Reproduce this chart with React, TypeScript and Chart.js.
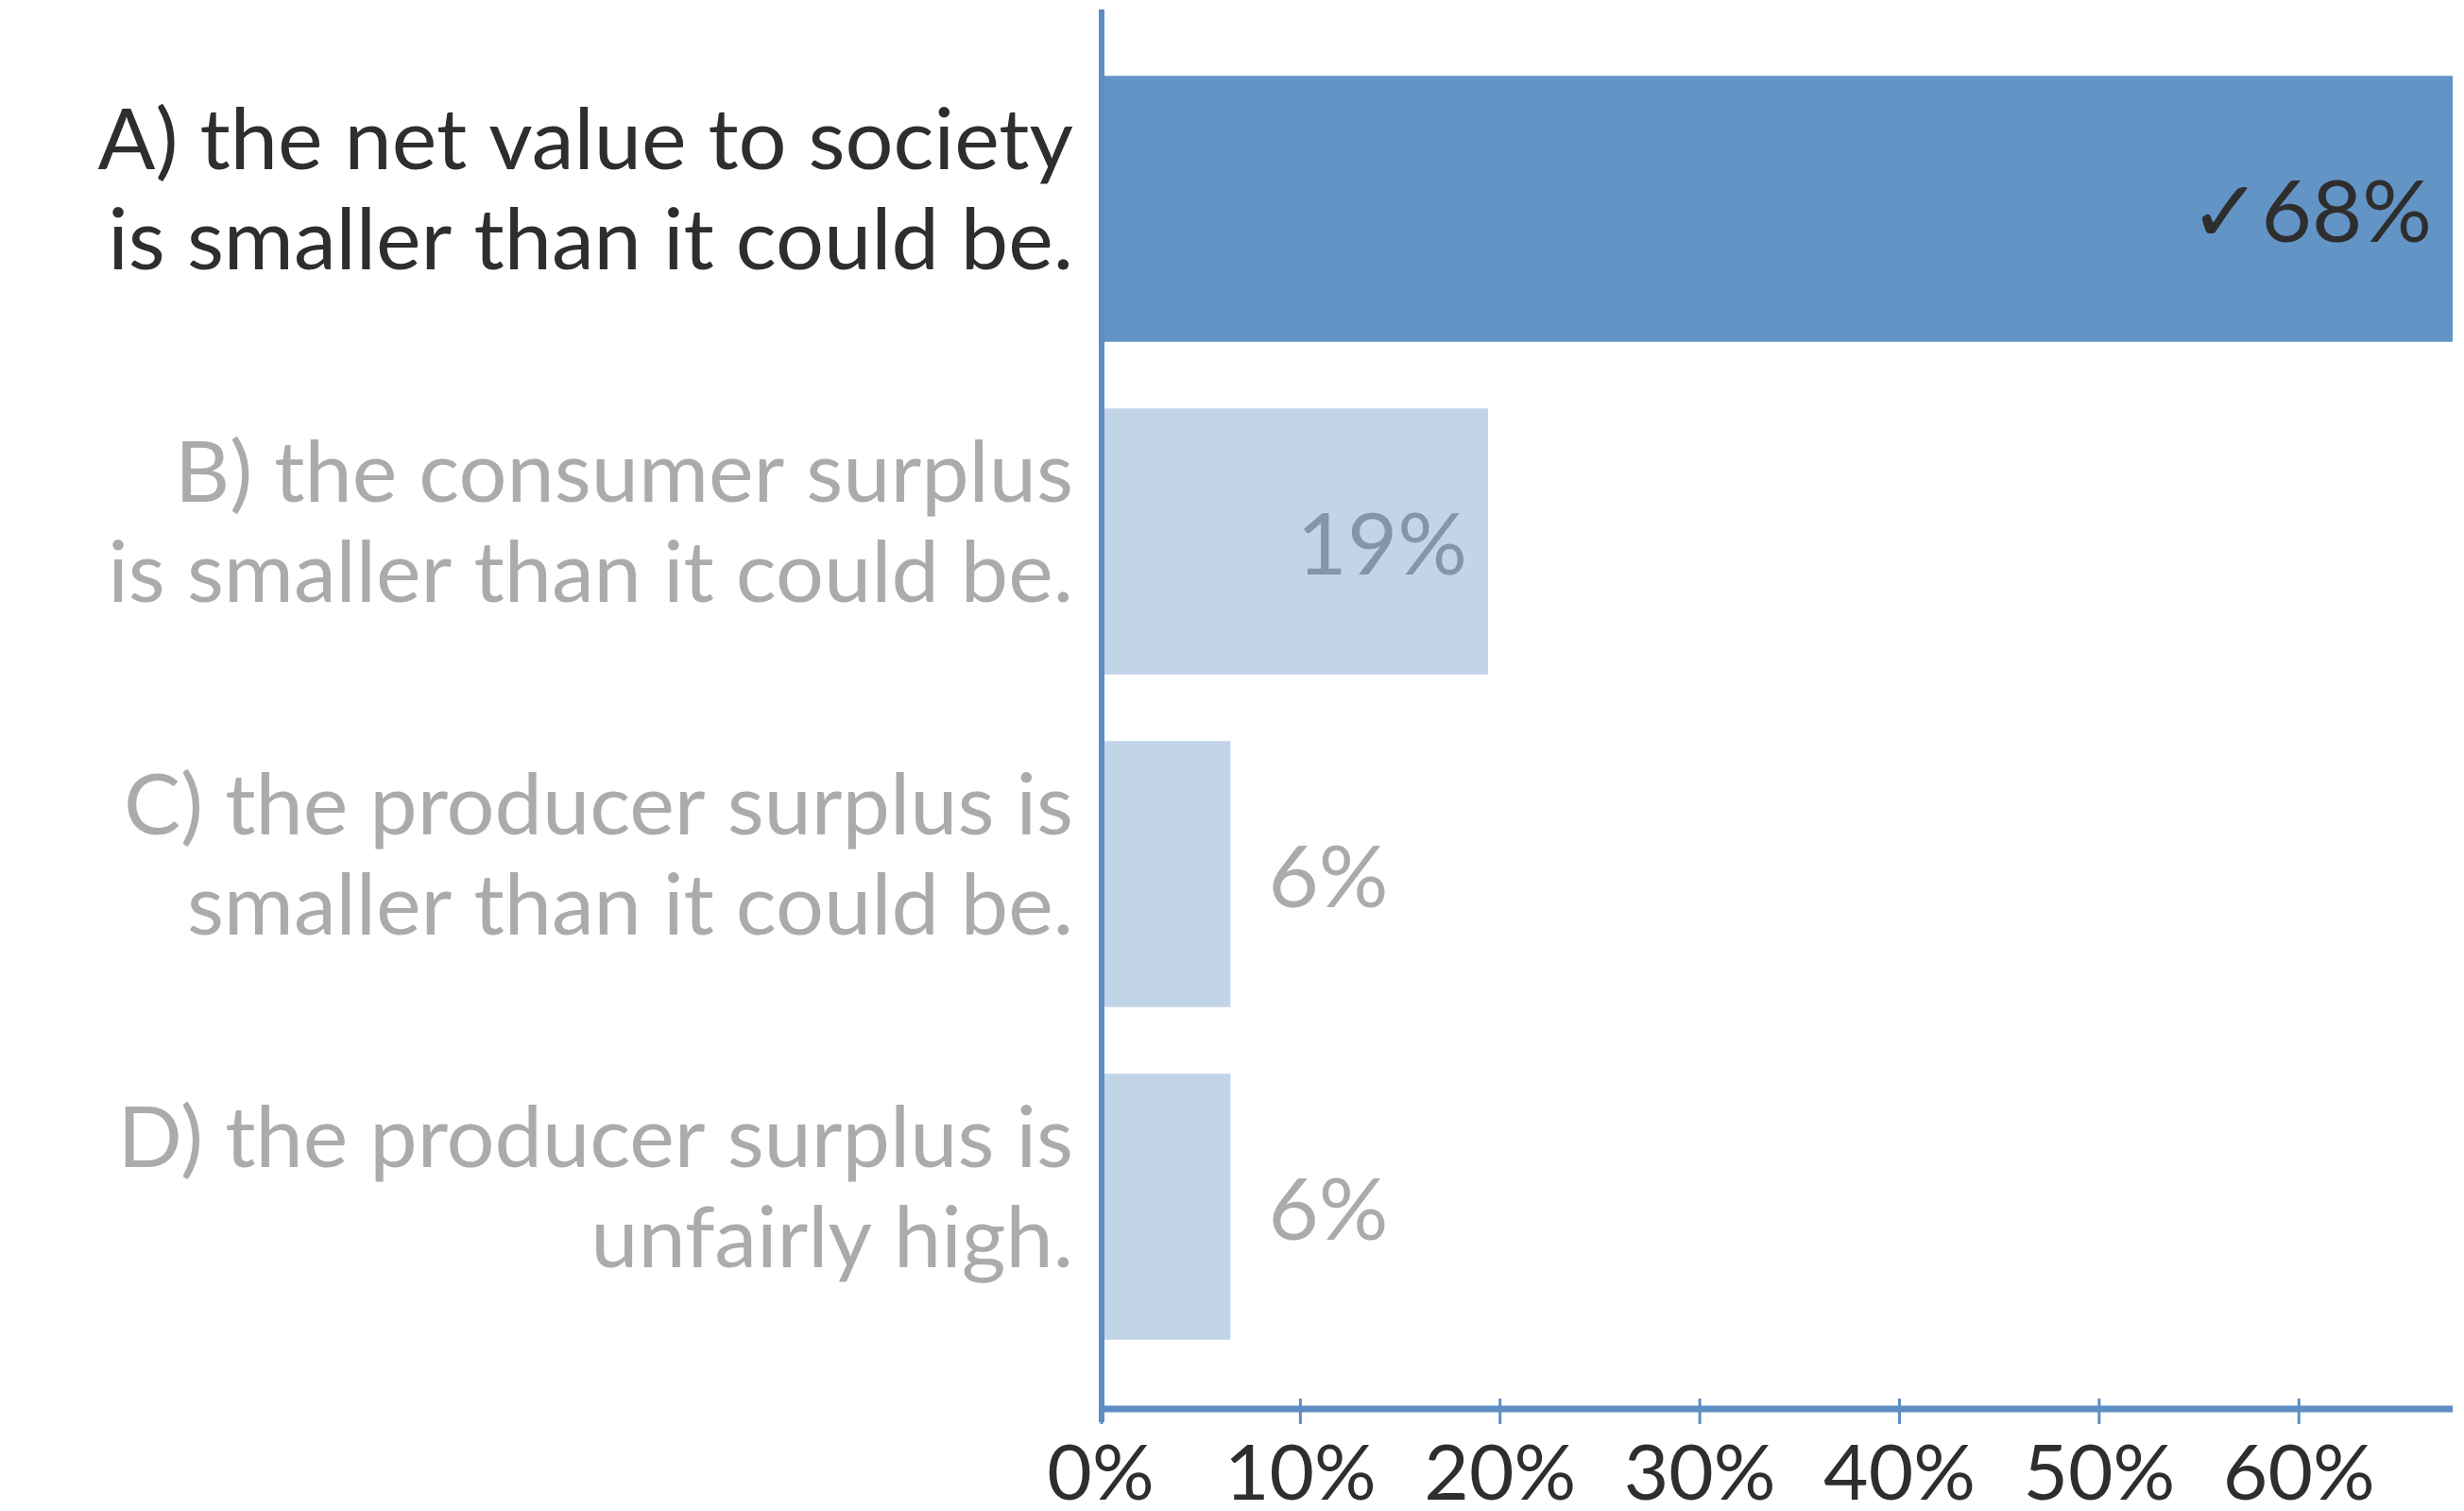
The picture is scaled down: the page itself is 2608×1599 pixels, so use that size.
import React, { useEffect, useRef } from "react";
import { Chart, registerables } from "chart.js";

Chart.register(...registerables);

// ---- data ----
const categories: string[][] = [
  ["A) the net value to society", "is smaller than it could be."],
  ["B) the consumer surplus", "is smaller than it could be."],
  ["C) the producer surplus is", "smaller than it could be."],
  ["D) the producer surplus is", "unfairly high."],
];
const shares: number[] = [67.7, 19.4, 6.5, 6.5];
const valueLabels: string[] = ["\u271368%", "19%", "6%", "6%"];
const xTicks: number[] = [0, 10, 20, 30, 40, 50, 60];
const correctIndex = 0;

// ---- styles ----
const FONT = "Lato, 'Source Sans Pro', 'Noto Sans', sans-serif";
const AXIS_COLOR = "#5E8DC3";
const BAR_CORRECT = "#6394C6";
const BAR_OTHER = "#C2D4E8";
const LABEL_CORRECT = "#2E2E2E";
const LABEL_OTHER = "#ABABAB";

const axesPlugin = {
  id: "customAxes",
  afterDatasetsDraw(chart: any) {
    const { ctx, chartArea } = chart;
    const xs = chart.scales.x;
    const axisY = chartArea.bottom + 38;
    ctx.save();
    ctx.strokeStyle = AXIS_COLOR;
    ctx.lineCap = "butt";
    // vertical axis
    ctx.lineWidth = 6;
    ctx.beginPath();
    ctx.moveTo(chartArea.left + 1, chartArea.top - 35);
    ctx.lineTo(chartArea.left + 1, axisY + 14);
    ctx.stroke();
    // horizontal axis
    ctx.lineWidth = 7;
    ctx.beginPath();
    ctx.moveTo(chartArea.left, axisY);
    ctx.lineTo(chartArea.right, axisY);
    ctx.stroke();
    // tick marks
    ctx.lineWidth = 3;
    xTicks.forEach((v) => {
      const px = xs.getPixelForValue(v) + (v === 0 ? 1 : 0);
      ctx.beginPath();
      ctx.moveTo(px, axisY - 11);
      ctx.lineTo(px, axisY + 16);
      ctx.stroke();
    });

    // value labels
    const meta = chart.getDatasetMeta(0);
    ctx.font = `92px ${FONT}`;
    ctx.textBaseline = "middle";
    meta.data.forEach((bar: any, i: number) => {
      const text = valueLabels[i];
      const tw = ctx.measureText(text).width;
      const barW = bar.x - bar.base;
      if (barW > tw + 44) {
        ctx.textAlign = "right";
        ctx.fillStyle = i === correctIndex ? LABEL_CORRECT : "#8594A6";
        ctx.fillText(text, bar.x - 22, bar.y + 5);
      } else {
        ctx.textAlign = "left";
        ctx.fillStyle = LABEL_OTHER;
        ctx.fillText(text, bar.x + 40, bar.y + 5);
      }
    });
    ctx.restore();
  },
};

const noPad = (s: any) => {
  s.paddingTop = 0;
  s.paddingBottom = 0;
  s.paddingLeft = 0;
  s.paddingRight = 0;
};

export default function App() {
  const ref = useRef<HTMLCanvasElement | null>(null);

  useEffect(() => {
    if (!ref.current) return;
    const chart = new Chart(ref.current, {
      type: "bar",
      data: {
        labels: categories,
        datasets: [
          {
            data: shares,
            backgroundColor: shares.map((_, i) =>
              i === correctIndex ? BAR_CORRECT : BAR_OTHER
            ),
            borderWidth: 0,
            barPercentage: 0.8,
            categoryPercentage: 1,
          },
        ],
      },
      options: {
        indexAxis: "y",
        animation: false,
        responsive: true,
        maintainAspectRatio: false,
        devicePixelRatio: 1,
        layout: { padding: { top: 37, right: 4, left: 0, bottom: 0 } },
        plugins: {
          legend: { display: false },
          tooltip: { enabled: false },
          title: { display: false },
        },
        scales: {
          x: {
            type: "linear",
            min: 0,
            max: Math.max(...shares),
            grid: { display: false, drawTicks: false, tickLength: 0 },
            border: { display: false },
            afterBuildTicks: (s: any) => {
              s.ticks = xTicks.map((v) => ({ value: v }));
            },
            afterFit: (s: any) => {
              s.height = 138;
              noPad(s);
            },
            ticks: {
              padding: 58,
              autoSkip: false,
              maxRotation: 0,
              color: "#2E2E2E",
              font: { family: FONT, size: 82, lineHeight: 1.2 },
              callback: (v: any) => `${v}%`,
            },
          },
          y: {
            type: "category",
            grid: { display: false, drawTicks: false, tickLength: 0 },
            border: { display: false },
            afterFit: (s: any) => {
              s.width = 1157;
              noPad(s);
            },
            ticks: {
              padding: 29,
              labelOffset: -18,
              autoSkip: false,
              color: (c: any) => (c.index === correctIndex ? LABEL_CORRECT : LABEL_OTHER),
              font: { family: FONT, size: 90, lineHeight: 1.18 },
            },
          },
        },
      },
      plugins: [axesPlugin],
    });
    return () => chart.destroy();
  }, []);

  return (
    <div style={{ width: 2592, height: 1583, position: "relative" }}>
      <canvas ref={ref} style={{ display: "block" }} />
    </div>
  );
}
